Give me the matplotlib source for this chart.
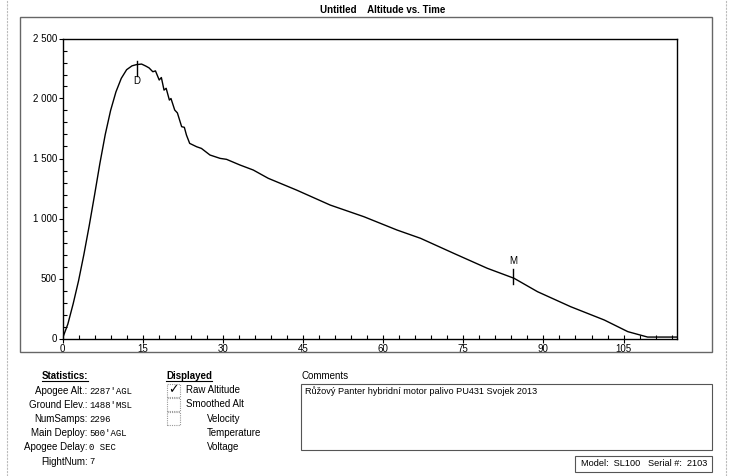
import matplotlib
matplotlib.use("Agg")
import matplotlib.pyplot as plt
from matplotlib.patches import Rectangle
from matplotlib.lines import Line2D
from matplotlib.ticker import MultipleLocator, FuncFormatter

plt.rcParams['font.family'] = ['Liberation Sans', 'DejaVu Sans']

W, H = 750, 476

# flight data (seconds, feet AGL)
time_s = [0, 1, 2, 3, 4, 5, 6, 7, 8, 9, 10, 11, 12, 13, 13.8, 14.8,
          15.6, 16.2, 16.9, 17.4, 18.1, 18.5, 19.0, 19.4, 20.0, 20.3, 21.0,
          21.5, 22.3, 22.8, 23.2, 23.8, 25.1, 26.0, 27.6, 29.5, 30.7, 33.2,
          35.7, 38.5, 43.8, 50.1, 56.4, 62.6, 67.0, 73.2, 79.5, 84.5, 88.9,
          95.1, 101.4, 105.8, 109.5, 115]
altitude = [0, 120, 290, 480, 700, 940, 1196, 1460, 1700, 1900, 2055, 2168,
            2240, 2272, 2282, 2287, 2270, 2255, 2223, 2230, 2154, 2175, 2070,
            2085, 1987, 2000, 1904, 1880, 1765, 1760, 1695, 1626, 1598, 1584,
            1529, 1501, 1493, 1446, 1404, 1335, 1237, 1112, 1015, 904, 835,
            710, 585, 502, 390, 265, 154, 57, 12, 12]

# event markers: drogue and main deploy
events = ['D', 'M']
event_t = [13.9, 84.3]
event_alt = [2250, 518]

x_ticks = [0, 15, 30, 45, 60, 75, 90, 105]
y_ticks = [0, 500, 1000, 1500, 2000, 2500]

stat_labels = ['Apogee Alt.:', 'Ground Elev.:', 'NumSamps:', 'Main Deploy:',
               'Apogee Delay:', 'FlightNum:']
stat_values = ["2287'AGL", "1488'MSL", '2296', "500'AGL", '0 SEC', '7']
displayed = ['Raw Altitude', 'Smoothed Alt', 'Velocity', 'Temperature', 'Voltage']
checked = [True, False, False, None, None]
comment = 'Růžový Panter hybridní motor palivo PU431 Svojek 2013'


def fx(x):
    return x / W


def fy(y):
    return 1 - y / H


def box(x0, y0, x1, y1, **kw):
    fig.add_artist(Rectangle((fx(x0), fy(y1)), fx(x1) - fx(x0), fy(y0) - fy(y1),
                             transform=fig.transFigure, fill=False, **kw))


fig = plt.figure(figsize=(W / 100, H / 100), dpi=100)
fig.patch.set_facecolor('white')

# outer frame around the plot
box(20, 17, 712, 352, edgecolor='#666666', lw=1.0)
# page borders (scan)
for xx in (7, 726):
    fig.add_artist(Line2D([fx(xx), fx(xx)], [0, 1], transform=fig.transFigure,
                          color='#bbbbbb', lw=0.8, ls=(0, (2, 1))))

fig.text(fx(383), fy(10), 'Untitled    Altitude vs. Time', ha='center',
         va='center', fontsize=7, fontweight='bold')

ax = fig.add_axes([fx(62.5), fy(338.5), fx(677) - fx(62.5), fy(38.5) - fy(338.5)])
ax.plot(time_s, altitude, color='black', lw=1.0)

for name, t, a in zip(events, event_t, event_alt):
    ax.plot([t, t], [a - 60, a + 60], color='black', lw=1.0)
    if name == 'D':
        ax.text(t, a - 100, name, ha='center', va='center', fontsize=7)
    else:
        ax.text(t, a + 125, name, ha='center', va='center', fontsize=7)

ax.set_xlim(0, 115)
ax.set_ylim(0, 2500)
ax.set_xticks(x_ticks)
ax.set_yticks(y_ticks)
ax.xaxis.set_minor_locator(MultipleLocator(3))
ax.yaxis.set_minor_locator(MultipleLocator(100))
ax.yaxis.set_major_formatter(FuncFormatter(lambda v, p: f'{int(v):,}'.replace(',', ' ')))
ax.tick_params(axis='x', which='major', direction='inout', length=6, width=0.8,
               labelsize=7, pad=1)
ax.tick_params(axis='x', which='minor', direction='in', length=3, width=0.8)
ax.tick_params(axis='y', which='major', direction='out', length=3, width=0.8,
               labelsize=7, pad=1)
ax.tick_params(axis='y', which='minor', direction='in', length=3, width=0.8)
for s in ax.spines.values():
    s.set_linewidth(1.0)

# statistics block
fig.text(fx(65), fy(376), 'Statistics:', ha='center', va='center',
         fontsize=7, fontweight='bold')
fig.add_artist(Line2D([fx(42), fx(88)], [fy(381), fy(381)],
                      transform=fig.transFigure, color='black', lw=0.8))
row_y = [391, 405, 419, 433, 447.5, 462]
for lab, val, y in zip(stat_labels, stat_values, row_y):
    fig.text(fx(87.5), fy(y), lab, ha='right', va='center', fontsize=7)
    fig.text(fx(89), fy(y), val, ha='left', va='center', fontsize=6.5,
             family='Liberation Mono')

# displayed block
fig.text(fx(189), fy(376), 'Displayed', ha='center', va='center',
         fontsize=7, fontweight='bold')
fig.add_artist(Line2D([fx(166), fx(212)], [fy(381), fy(381)],
                      transform=fig.transFigure, color='black', lw=0.8))
disp_y = [390, 404, 418.5, 433, 447.5]
for name, chk, y in zip(displayed, checked, disp_y):
    x_lab = 186.5 if name in ('Raw Altitude', 'Smoothed Alt') else 206.5
    if chk is not None:
        box(167, y - 6.5, 180, y + 6.5, edgecolor='#999999', lw=0.8,
            ls=(0, (1, 1)))
        if chk:
            fig.text(fx(173.5), fy(y), '✓', ha='center', va='center',
                     fontsize=9, fontweight='bold', family='DejaVu Sans')
    fig.text(fx(x_lab), fy(y), name, ha='left', va='center', fontsize=7)

# comments
fig.text(fx(301.5), fy(376), 'Comments', ha='left', va='center', fontsize=7)
box(301, 384, 712, 450, edgecolor='#555555', lw=0.8)
fig.text(fx(305), fy(391), comment, ha='left', va='center', fontsize=6.6)

# model / serial box
box(575, 456, 712, 472, edgecolor='#555555', lw=0.8)
fig.text(fx(581), fy(464), 'Model:  SL100', ha='left', va='center', fontsize=6.6)
fig.text(fx(648), fy(464), 'Serial #:  2103', ha='left', va='center', fontsize=6.6)

fig.savefig('out.png', dpi=100)
